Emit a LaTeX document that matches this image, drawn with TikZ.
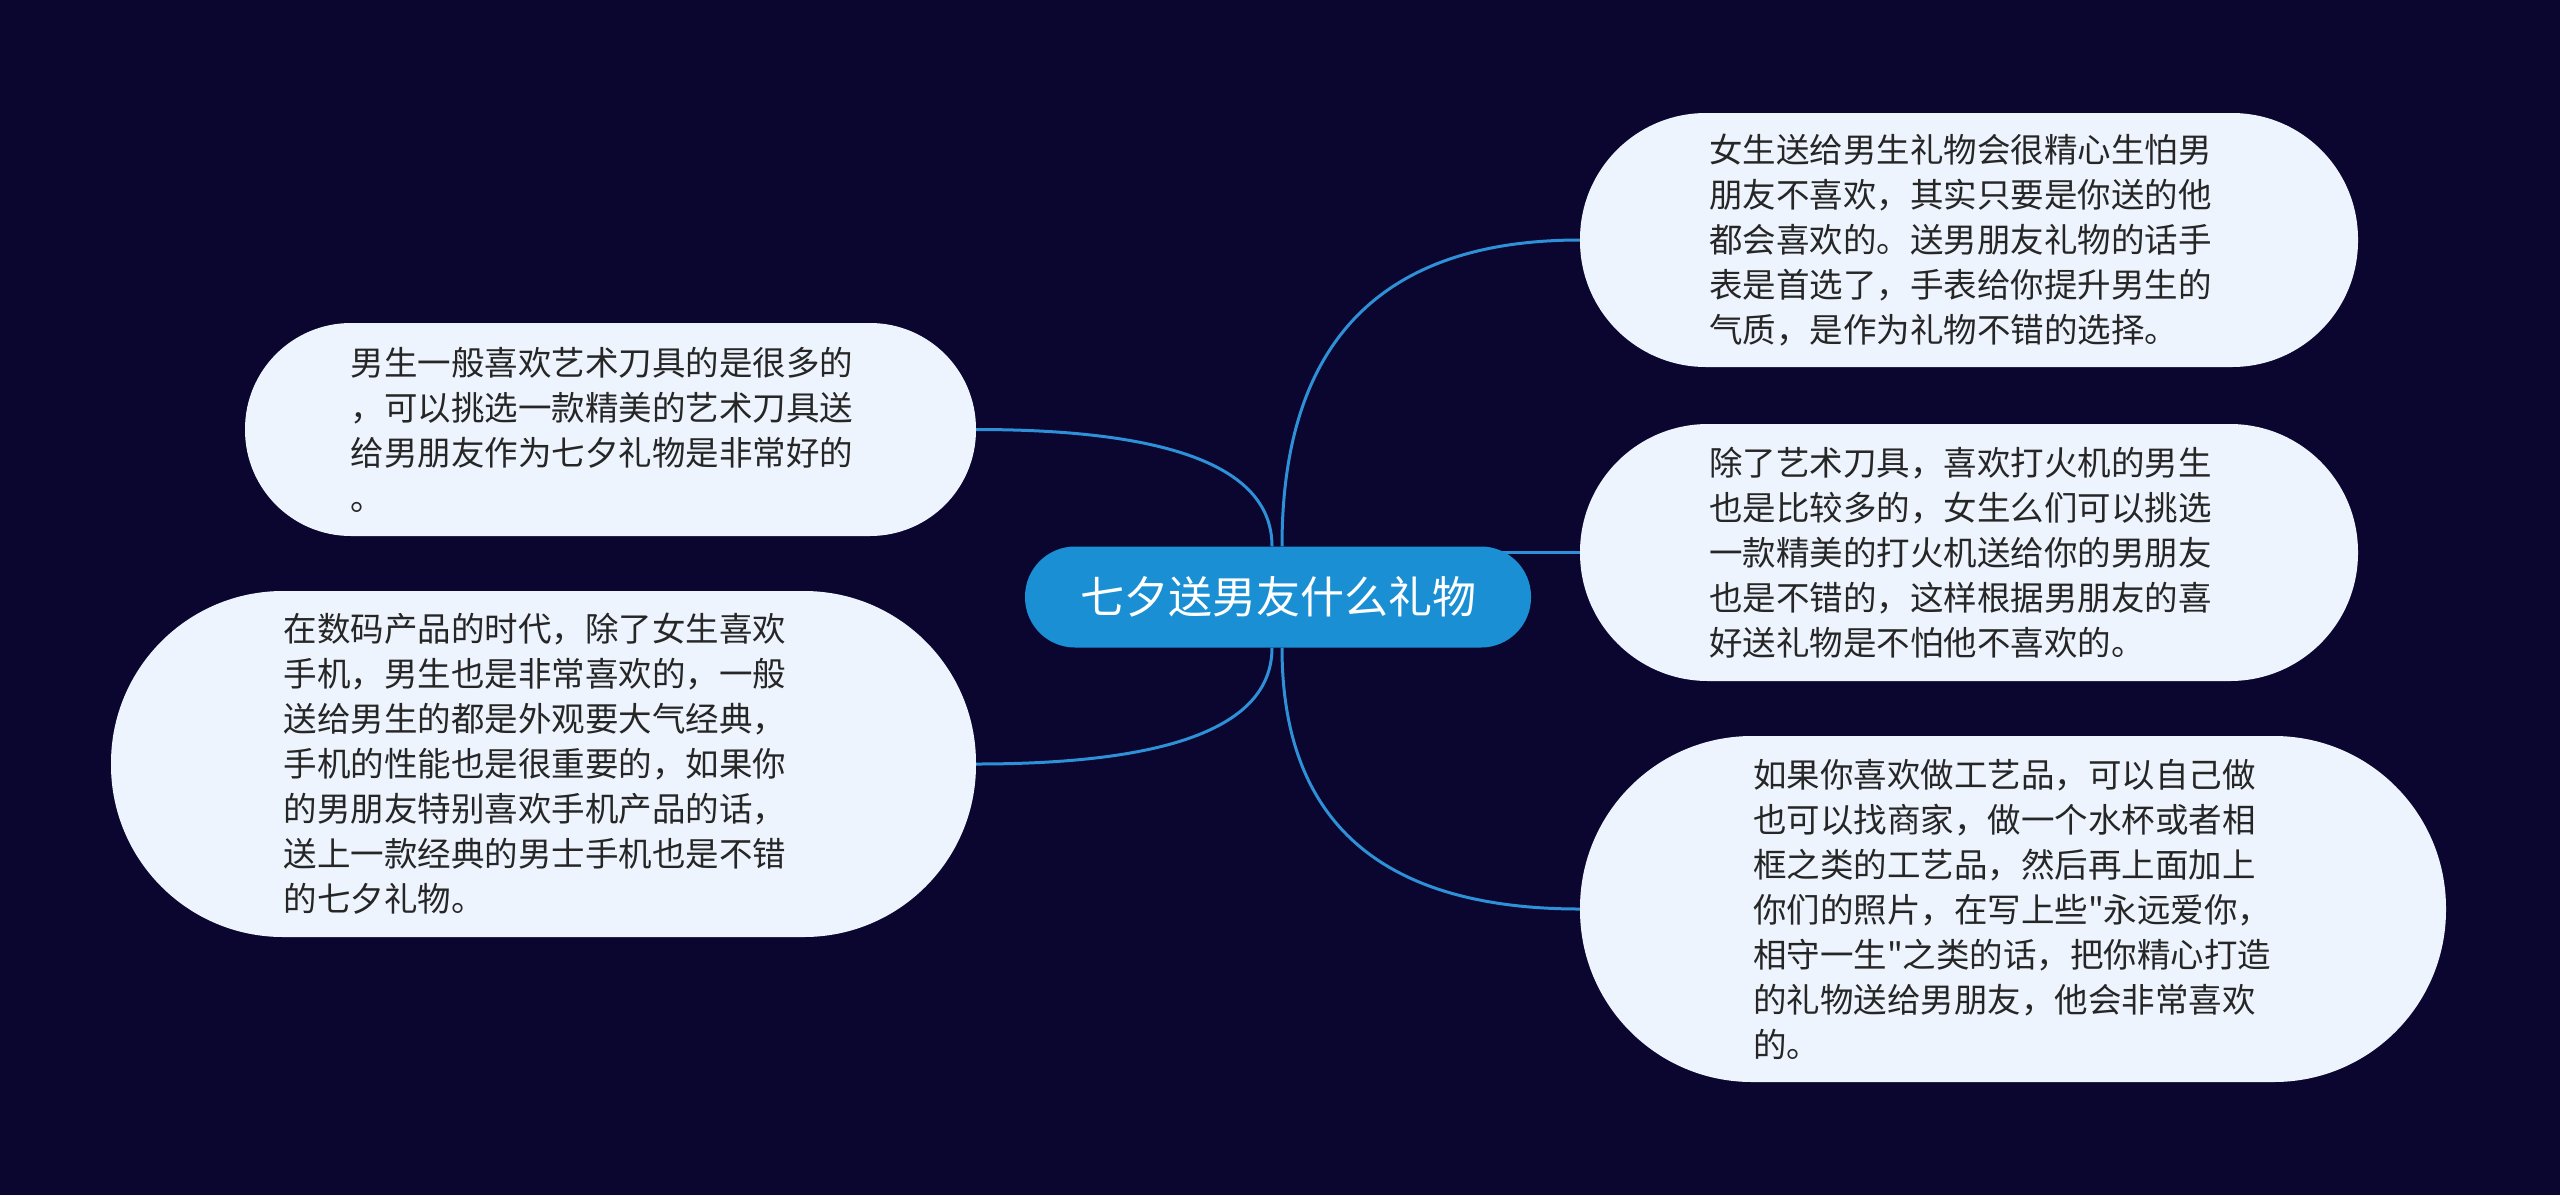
\documentclass[tikz,border=0pt]{standalone}
\usepackage{fontspec}
\newfontfamily\cjk{Noto Sans CJK SC}
\usetikzlibrary{calc}
\pgfdeclarelayer{bg}
\pgfdeclarelayer{lines}
\pgfsetlayers{bg,lines,main}
\definecolor{bgc}{HTML}{0B0630}
\definecolor{topicc}{HTML}{1B8FD3}
\definecolor{linec}{HTML}{2E90D6}
\definecolor{leafc}{HTML}{EEF4FD}
\definecolor{textc}{HTML}{262626}
\begin{document}
\begin{tikzpicture}[x=1pt,y=-1pt,
  leaf/.style={fill=leafc, text=textc, font=\cjk\fontsize{33.5}{45}\selectfont,
    align=left, inner sep=0pt, text width=520pt},
  topic/.style={fill=topicc, text=white, font=\cjk\fontsize{44}{50}\selectfont,
    inner sep=0pt, minimum width=506pt, minimum height=101pt, rounded corners=50pt},
  link/.style={draw=linec, line width=3pt}]
\begin{pgfonlayer}{bg}
\fill[bgc] (0,0) rectangle (2560,1195);
\end{pgfonlayer}
\useasboundingbox (0,0) rectangle (2560,1195);

\node[topic] (c) at (1278,597) {七夕送男友什么礼物};

\node[leaf, minimum width=731pt, minimum height=213pt, rounded corners=106pt] (l1) at (610.5,429.5) {男生一般喜欢艺术刀具的是很多的\\，可以挑选一款精美的艺术刀具送\\给男朋友作为七夕礼物是非常好的\\。};

\node[leaf, minimum width=865pt, minimum height=346pt, rounded corners=172pt] (l2) at (543.5,764) {在数码产品的时代，除了女生喜欢\\手机，男生也是非常喜欢的，一般\\送给男生的都是外观要大气经典，\\手机的性能也是很重要的，如果你\\的男朋友特别喜欢手机产品的话，\\送上一款经典的男士手机也是不错\\的七夕礼物。};

\node[leaf, minimum width=778pt, minimum height=254pt, rounded corners=126pt] (r1) at (1969,240) {女生送给男生礼物会很精心生怕男\\朋友不喜欢，其实只要是你送的他\\都会喜欢的。送男朋友礼物的话手\\表是首选了，手表给你提升男生的\\气质，是作为礼物不错的选择。};

\node[leaf, minimum width=778pt, minimum height=257pt, rounded corners=128pt] (r2) at (1969,552.5) {除了艺术刀具，喜欢打火机的男生\\也是比较多的，女生么们可以挑选\\一款精美的打火机送给你的男朋友\\也是不错的，这样根据男朋友的喜\\好送礼物是不怕他不喜欢的。};

\node[leaf, minimum width=866pt, minimum height=346pt, rounded corners=172pt] (r3) at (2013,909) {如果你喜欢做工艺品，可以自己做\\也可以找商家，做一个水杯或者相\\框之类的工艺品，然后再上面加上\\你们的照片，在写上些"永远爱你，\\相守一生"之类的话，把你精心打造\\的礼物送给男朋友，他会非常喜欢\\的。};

\coordinate (cnl) at ($(c.north)+(-6,0)$);
\coordinate (cnr) at ($(c.north)+(4,0)$);
\coordinate (csl) at ($(c.south)+(-6,0)$);
\coordinate (csr) at ($(c.south)+(4,0)$);
\coordinate (cmid) at (c.center |- r2.west);

\begin{pgfonlayer}{lines}
\draw[link] (cnl) .. controls ($(cnl)!0.667!(cnl |- l1.east)$) and ($(l1.east)!0.667!(cnl |- l1.east)$) .. (l1.east);
\draw[link] (csl) .. controls ($(csl)!0.667!(csl |- l2.east)$) and ($(l2.east)!0.667!(csl |- l2.east)$) .. (l2.east);
\draw[link] (cnr) .. controls ($(cnr)!0.667!(cnr |- r1.west)$) and ($(r1.west)!0.667!(cnr |- r1.west)$) .. (r1.west);
\draw[link] (cmid) -- (r2.west);
\draw[link] (csr) .. controls ($(csr)!0.667!(csr |- r3.west)$) and ($(r3.west)!0.667!(csr |- r3.west)$) .. (r3.west);
\end{pgfonlayer}
\end{tikzpicture}
\end{document}
